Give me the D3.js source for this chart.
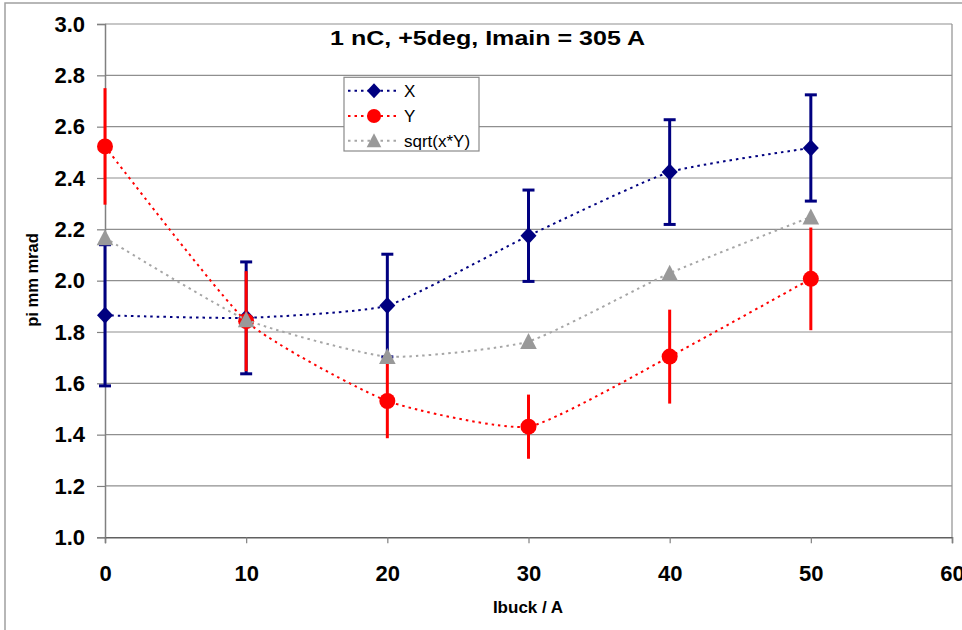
<!DOCTYPE html>
<html>
<head>
<meta charset="utf-8">
<script src="https://cdn.jsdelivr.net/npm/d3@7"></script>
<style>
  html, body { margin: 0; padding: 0; background: #fff; }
  svg { display: block; font-family: "Liberation Sans", Arial, Helvetica, sans-serif; }
</style>
</head>
<body>
<svg id="chart" width="962" height="630"></svg>
<script>
// ---- data ----
const categories = [0, 10, 20, 30, 40, 50];
const xValues    = [1.865, 1.855, 1.903, 2.175, 2.423, 2.517];
const xErrors    = [0.275, 0.218, 0.200, 0.178, 0.204, 0.207];
const yValues    = [2.523, 1.842, 1.531, 1.431, 1.704, 2.007];
const yErrors    = [0.227, 0.195, 0.145, 0.125, 0.183, 0.200];
const sqrtValues = [2.167, 1.848, 1.704, 1.763, 2.029, 2.248];
const xTickValues = [0, 10, 20, 30, 40, 50, 60];
const yTickValues = [1.0, 1.2, 1.4, 1.6, 1.8, 2.0, 2.2, 2.4, 2.6, 2.8, 3.0];
const titleText = "1 nC, +5deg, Imain = 305 A";
const xTitle = "Ibuck / A";
const yTitle = "pi mm mrad";
const seriesNames = ["X", "Y", "sqrt(x*Y)"];

// ---- layout ----
const svg = d3.select("#chart");
const plot = { left: 105, right: 952, top: 24, bottom: 537.3 };
const x = d3.scaleLinear().domain([0, 60]).range([plot.left, plot.right]);
const y = d3.scaleLinear().domain([1, 3]).range([plot.bottom, plot.top]);

// outer frame
svg.append("rect").attr("x", 5).attr("y", 3).attr("width", 1000).attr("height", 700)
  .attr("fill", "#fff").attr("stroke", "#a0a0a0").attr("stroke-width", 1.5);

// gridlines
svg.append("g").selectAll("line").data(yTickValues.slice(1)).join("line")
  .attr("x1", plot.left).attr("x2", plot.right)
  .attr("y1", d => y(d)).attr("y2", d => y(d))
  .attr("stroke", "#8f8f8f").attr("stroke-width", 1.2);

// plot border (right)
svg.append("line").attr("x1", plot.right).attr("x2", plot.right)
  .attr("y1", plot.top).attr("y2", plot.bottom)
  .attr("stroke", "#8f8f8f").attr("stroke-width", 1.2);

// axes
const yAxis = d3.axisLeft(y).tickValues(yTickValues).tickFormat(d3.format(".1f"))
  .tickSize(8).tickPadding(12);
const gy = svg.append("g").attr("transform", `translate(${plot.left},0)`).call(yAxis);
gy.select(".domain").attr("stroke", "#808080").attr("stroke-width", 1.5);
gy.selectAll(".tick line").attr("stroke", "#808080").attr("stroke-width", 1.2);
gy.selectAll(".tick text").attr("font-size", 22).attr("font-weight", "bold")
  .attr("fill", "#000").attr("font-family", "Liberation Sans, Arial, sans-serif");

const xAxis = d3.axisBottom(x).tickValues(xTickValues).tickFormat(d3.format("d"))
  .tickSize(6).tickPadding(22);
const gx = svg.append("g").attr("transform", `translate(0,${plot.bottom})`).call(xAxis);
gx.select(".domain").attr("stroke", "#606060").attr("stroke-width", 1.5);
gx.selectAll(".tick line").attr("stroke", "#808080").attr("stroke-width", 1.2);
gx.selectAll(".tick text").attr("font-size", 22).attr("font-weight", "bold")
  .attr("fill", "#000").attr("font-family", "Liberation Sans, Arial, sans-serif");

// titles
svg.append("text").attr("x", 487.5).attr("y", 45).attr("text-anchor", "middle")
  .attr("font-size", 21).attr("font-weight", "bold")
  .attr("textLength", 315).attr("lengthAdjust", "spacingAndGlyphs").text(titleText);
svg.append("text").attr("x", 528).attr("y", 613).attr("text-anchor", "middle")
  .attr("font-size", 17).attr("font-weight", "bold").text(xTitle);
svg.append("text").attr("transform", "translate(38,280) rotate(-90)")
  .attr("text-anchor", "middle").attr("font-size", 16.5).attr("font-weight", "bold").text(yTitle);

// series
const series = [
  { name: seriesNames[0], vals: xValues, errs: xErrors, color: "#000080", marker: "diamond", cap: true, lineColor: "#000080" },
  { name: seriesNames[1], vals: yValues, errs: yErrors, color: "#ff0000", marker: "circle", cap: false, lineColor: "#ff0000" },
  { name: seriesNames[2], vals: sqrtValues, errs: null, color: "#999999", marker: "triangle", cap: false, lineColor: "#a6a6a6" }
];

const line = d3.line().x(d => x(d[0])).y(d => y(d[1])).curve(d3.curveCardinal.tension(0.5));

function drawMarker(g, type, color, cx, cy, s) {
  if (type === "diamond") {
    g.append("path").attr("d", `M${cx},${cy - 8.5 * s}L${cx + 8 * s},${cy}L${cx},${cy + 8.5 * s}L${cx - 8 * s},${cy}Z`).attr("fill", color);
  } else if (type === "circle") {
    g.append("circle").attr("cx", cx).attr("cy", cy).attr("r", 8 * s).attr("fill", color);
  } else {
    g.append("path").attr("d", `M${cx},${cy - 8.5 * s}L${cx + 8.3 * s},${cy + 7.5 * s}L${cx - 8.3 * s},${cy + 7.5 * s}Z`).attr("fill", color);
  }
}

series.forEach(s => {
  const g = svg.append("g");
  const pts = categories.map((c, i) => [c, s.vals[i]]);
  g.append("path").attr("d", line(pts)).attr("fill", "none")
    .attr("stroke", s.lineColor).attr("stroke-width", 2).attr("stroke-dasharray", "2.5,4");
  if (s.errs) {
    categories.forEach((c, i) => {
      const cx = x(c), y1 = y(s.vals[i] + s.errs[i]), y2 = y(s.vals[i] - s.errs[i]);
      g.append("line").attr("x1", cx).attr("x2", cx).attr("y1", y1).attr("y2", y2)
        .attr("stroke", s.color).attr("stroke-width", 3);
      if (s.cap) {
        [y1, y2].forEach(yy => g.append("line").attr("x1", cx - 6).attr("x2", cx + 6)
          .attr("y1", yy).attr("y2", yy).attr("stroke", s.color).attr("stroke-width", 3));
      }
    });
  }
  categories.forEach((c, i) => drawMarker(g, s.marker, s.color, x(c), y(s.vals[i]), 1));
});

// legend
const lg = svg.append("g");
lg.append("rect").attr("x", 344).attr("y", 77.3).attr("width", 135).attr("height", 73.7)
  .attr("fill", "#fff").attr("stroke", "#8a8a8a").attr("stroke-width", 1.2);
const rowsY = [90.7, 116, 140.7];
series.forEach((s, i) => {
  const yy = rowsY[i];
  lg.append("line").attr("x1", 348).attr("x2", 397).attr("y1", yy).attr("y2", yy)
    .attr("stroke", s.lineColor).attr("stroke-width", 2).attr("stroke-dasharray", "2.5,4");
  drawMarker(lg, s.marker, s.color, 374, yy, 0.88);
  lg.append("text").attr("x", 404).attr("y", yy + 6).attr("font-size", 17).text(s.name);
});
</script>
</body>
</html>
